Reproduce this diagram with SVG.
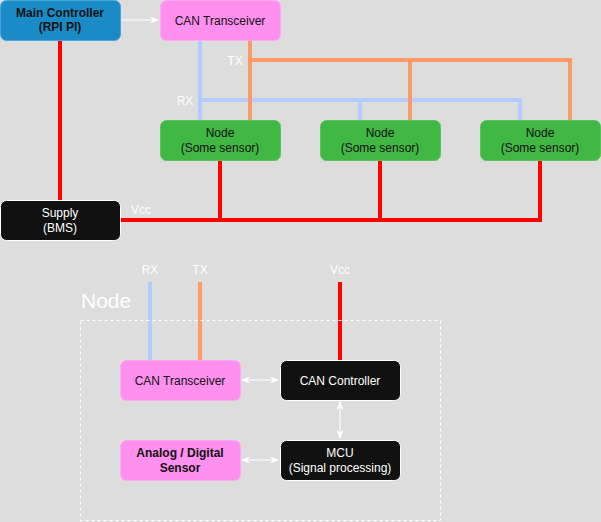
<svg xmlns="http://www.w3.org/2000/svg" width="601" height="522" viewBox="0 0 601 522">
<defs>
<style>
text{font-family:"Liberation Sans",Arial,sans-serif;font-size:12px;text-anchor:middle}
.dark{fill:#111111}
.white{fill:#ffffff}
.b{font-weight:bold}
.lbl{font-size:12px;fill:#ffffff}
.blue{fill:#1b8bc7;stroke:#4aa6d8;stroke-width:1}
.pink{fill:#ff90f0;stroke:#ffaaf5;stroke-width:1}
.green{fill:#41b744;stroke:#5ac45c;stroke-width:1}
.black{fill:#111111;stroke:#ffffff;stroke-width:1}
.rx{stroke:#b3ccff;stroke-width:4;fill:none}
.tx{stroke:#ff9966;stroke-width:4;fill:none}
.vcc{stroke:#ff0000;stroke-width:4;fill:none}
.arr{stroke:#ffffff;stroke-width:1;fill:none}
</style>
<marker id="ah" viewBox="0 0 10 10" refX="9" refY="5" markerWidth="9" markerHeight="9" orient="auto-start-reverse" markerUnits="userSpaceOnUse">
<path d="M0,1 L10,5 L0,9 L3,5 Z" fill="#ffffff"/>
</marker>
</defs>
<rect width="601" height="522" fill="#dddddd"/>
<g id="connectors">
<path class="vcc" d="M60,40 V200"/>
<path class="rx" d="M200,40 V120 M200,100 H520 V120 M360,100 V120"/>
<path class="tx" d="M250,40 V120 M250,60 H570 V120 M410,60 V120"/>
<path class="vcc" d="M120,220 H540 V160 M220,160 V220 M380,160 V220"/>
<path class="arr" d="M121,20 H158" marker-end="url(#ah)"/>
<path class="rx" d="M150,282 V360"/>
<path class="tx" d="M200,282 V360"/>
<path class="vcc" d="M340,282 V360"/>
<path class="arr" d="M242,380 H278" marker-start="url(#ah)" marker-end="url(#ah)"/>
<path class="arr" d="M340,402 V438" marker-start="url(#ah)" marker-end="url(#ah)"/>
<path class="arr" d="M242,460 H278" marker-start="url(#ah)" marker-end="url(#ah)"/>
<text class="lbl" x="235" y="65">TX</text>
<text class="lbl" x="185" y="105">RX</text>
<text class="lbl" x="141" y="214">Vcc</text>
<text class="lbl" x="150" y="274">RX</text>
<text class="lbl" x="200" y="274">TX</text>
<text class="lbl" x="340" y="274">Vcc</text>
</g>
<g id="main-controller">
<rect class="blue" x="0.5" y="0.5" width="120" height="40" rx="6"/>
<text class="dark b" x="60" y="17">Main Controller</text>
<text class="dark b" x="60" y="31">(RPI PI)</text>
</g>
<g id="can-transceiver">
<rect class="pink" x="160.5" y="0.5" width="120" height="40" rx="6"/>
<text class="dark" x="220" y="25">CAN Transceiver</text>
</g>
<g id="node1">
<rect class="green" x="160.5" y="120.5" width="120" height="40" rx="6"/>
<text class="dark" x="220" y="137">Node</text>
<text class="dark" x="220" y="152">(Some sensor)</text>
</g>
<g id="node2">
<rect class="green" x="320.5" y="120.5" width="120" height="40" rx="6"/>
<text class="dark" x="380" y="137">Node</text>
<text class="dark" x="380" y="152">(Some sensor)</text>
</g>
<g id="node3">
<rect class="green" x="480.5" y="120.5" width="120" height="40" rx="6"/>
<text class="dark" x="540" y="137">Node</text>
<text class="dark" x="540" y="152">(Some sensor)</text>
</g>
<g id="supply">
<rect class="black" x="0.5" y="200.5" width="120" height="40" rx="6"/>
<text class="white" x="60" y="217">Supply</text>
<text class="white" x="60" y="232">(BMS)</text>
</g>
<g id="node-detail">
<text x="81" y="308" style="font-size:21px;fill:#ffffff;text-anchor:start">Node</text>
<rect x="80.5" y="320.5" width="360" height="200" fill="none" stroke="#ffffff" stroke-width="1" stroke-dasharray="3,3"/>
</g>
<g id="can-transceiver-2">
<rect class="pink" x="120.5" y="360.5" width="120" height="40" rx="6"/>
<text class="dark" x="180" y="385">CAN Transceiver</text>
</g>
<g id="can-controller">
<rect class="black" x="280.5" y="360.5" width="120" height="40" rx="6"/>
<text class="white" x="340" y="385">CAN Controller</text>
</g>
<g id="sensor">
<rect class="pink" x="120.5" y="440.5" width="120" height="40" rx="6"/>
<text class="dark b" x="180" y="457">Analog / Digital</text>
<text class="dark b" x="180" y="472">Sensor</text>
</g>
<g id="mcu">
<rect class="black" x="280.5" y="440.5" width="120" height="40" rx="6"/>
<text class="white" x="340" y="457">MCU</text>
<text class="white" x="340" y="472">(Signal processing)</text>
</g>
</svg>
